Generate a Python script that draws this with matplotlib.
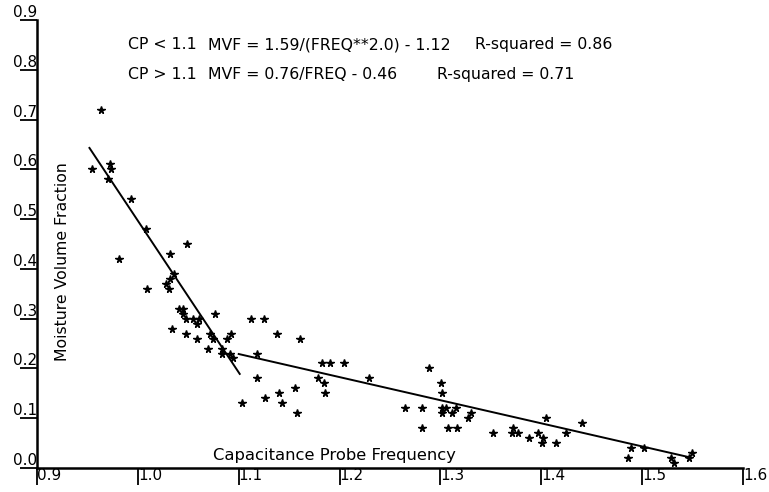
import numpy as np
import matplotlib
matplotlib.use('Agg')
import matplotlib.pyplot as plt

# capacitance probe frequency vs moisture volume fraction
freq = [0.963, 0.955, 0.972, 0.973, 0.970, 0.993, 1.008, 0.981, 1.032, 1.049,
        1.036, 1.032, 1.028, 1.031, 1.009, 1.041, 1.045, 1.045, 1.048, 1.055,
        1.061, 1.059, 1.076, 1.034, 1.048, 1.059, 1.072, 1.075, 1.092, 1.088,
        1.070, 1.083, 1.083, 1.091, 1.094, 1.103, 1.112, 1.125, 1.138, 1.161,
        1.118, 1.118, 1.126, 1.140, 1.143, 1.156, 1.158, 1.179, 1.185, 1.186,
        1.183, 1.191, 1.204, 1.229, 1.289, 1.301, 1.302, 1.265, 1.282, 1.302,
        1.306, 1.315, 1.302, 1.311, 1.330, 1.327, 1.282, 1.308, 1.316, 1.352,
        1.372, 1.371, 1.377, 1.388, 1.397, 1.405, 1.402, 1.401, 1.415, 1.425,
        1.440, 1.489, 1.486, 1.502, 1.529, 1.532, 1.549, 1.546]
mvf = [0.72, 0.60, 0.61, 0.60, 0.58, 0.54, 0.48, 0.42, 0.43, 0.45,
       0.39, 0.38, 0.37, 0.36, 0.36, 0.32, 0.32, 0.31, 0.30, 0.30,
       0.30, 0.29, 0.31, 0.28, 0.27, 0.26, 0.27, 0.26, 0.27, 0.26,
       0.24, 0.24, 0.23, 0.23, 0.22, 0.13, 0.30, 0.30, 0.27, 0.26,
       0.23, 0.18, 0.14, 0.15, 0.13, 0.16, 0.11, 0.18, 0.17, 0.15,
       0.21, 0.21, 0.21, 0.18, 0.20, 0.17, 0.15, 0.12, 0.12, 0.12,
       0.12, 0.12, 0.11, 0.11, 0.11, 0.10, 0.08, 0.08, 0.08, 0.07,
       0.08, 0.07, 0.07, 0.06, 0.07, 0.10, 0.06, 0.05, 0.05, 0.07,
       0.09, 0.04, 0.02, 0.04, 0.02, 0.01, 0.03, 0.02]

# fitted lines, end points
fit_lo_x = [0.952, 1.101]
fit_lo_y = [0.643, 0.189]
fit_hi_x = [1.100, 1.546]
fit_hi_y = [0.229, 0.022]

xticks = [0.9, 1.0, 1.1, 1.2, 1.3, 1.4, 1.5, 1.6]
yticks = [0.0, 0.1, 0.2, 0.3, 0.4, 0.5, 0.6, 0.7, 0.8, 0.9]

fs = 11.3
plt.rcParams['font.family'] = 'DejaVu Sans'

fig = plt.figure(figsize=(7.69, 4.92), dpi=100)
ax = fig.add_axes([37/769, 24/492, 706/769, 448/492])

ax.plot(freq, mvf, ls='none', marker='*', ms=5.5, color='black')
ax.plot(fit_lo_x, fit_lo_y, color='black', lw=1.4)
ax.plot(fit_hi_x, fit_hi_y, color='black', lw=1.4)

ax.set_xlim(0.9, 1.6)
ax.set_ylim(0.0, 0.9)
for s in ['top', 'right']:
    ax.spines[s].set_visible(False)
for s in ['left', 'bottom']:
    ax.spines[s].set_linewidth(1.8)

ax.set_xticks(xticks)
ax.set_xticklabels(['%.1f' % v for v in xticks], fontsize=11)
ax.set_yticks(yticks)
ax.set_yticklabels(['%.1f' % v for v in yticks], fontsize=11)
ax.tick_params(axis='x', direction='out', length=12, width=1.3, pad=-12)
ax.tick_params(axis='y', direction='out', length=12, width=1.3, pad=-12)
for lab in ax.get_xticklabels():
    lab.set_ha('left')
    lab.set_va('top')
for lab in ax.get_yticklabels():
    lab.set_va('bottom')

ax.text(0.990, 0.85, 'CP < 1.1', fontsize=fs, va='center')
ax.text(1.0695, 0.85, 'MVF = 1.59/(FREQ**2.0) - 1.12', fontsize=fs, va='center')
ax.text(1.334, 0.85, 'R-squared = 0.86', fontsize=fs, va='center')
ax.text(0.990, 0.79, 'CP > 1.1', fontsize=fs, va='center')
ax.text(1.0695, 0.79, 'MVF = 0.76/FREQ - 0.46', fontsize=fs, va='center')
ax.text(1.2964, 0.79, 'R-squared = 0.71', fontsize=fs, va='center')

ax.text(0.9248, 0.414, 'Moisture Volume Fraction', fontsize=fs, rotation=90,
        ha='center', va='center')
ax.text(1.195, 0.026, 'Capacitance Probe Frequency', fontsize=fs + 0.5,
        ha='center', va='center')

fig.savefig('out.png', dpi=100)
